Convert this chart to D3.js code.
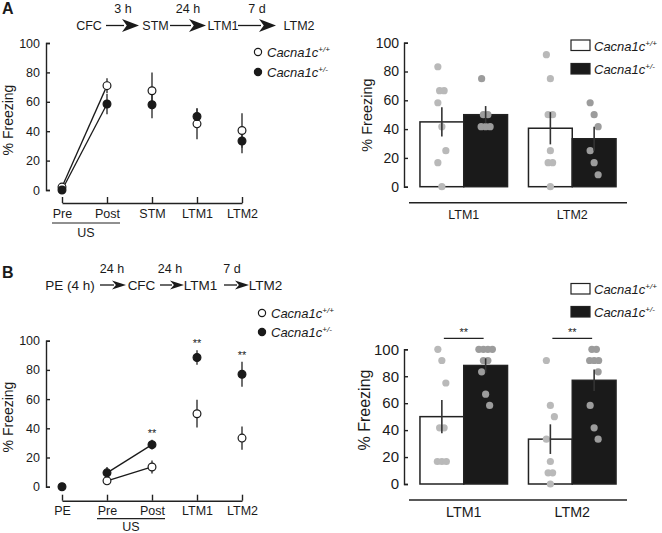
<!DOCTYPE html>
<html><head><meta charset="utf-8">
<script src="https://cdn.jsdelivr.net/npm/d3@7"></script>
<style>
body{margin:0;background:#fff}
text{font-family:Arial,"Liberation Sans",sans-serif;fill:#1a1a1a}
</style>
</head><body>
<svg id="c" width="662" height="533" style="background:#fff"></svg>
<script>
// ---------- DATA ----------
const timeA = ["Pre","Post","STM","LTM1","LTM2"];
const wtA = [2, 71, 67.5, 45, 40.5];
const wtErrA = [0.5, 5, 12.5, 10.5, 11.7];
const hetA = [0, 58.5, 58, 50, 33.3];
const hetErrA = [0.5, 7, 9.2, 5.6, 8.3];

const timeB = ["PE","Pre","Post","LTM1","LTM2"];
const wtB = [null, 4, 13.5, 50, 33.3];
const wtErrB = [null, 2, 4.5, 9.5, 8];
const hetB = [0, 9.5, 28.8, 88.5, 77];
const hetErrB = [0.5, 4, 3.3, 5, 8.5];
const starsB = ["Post","LTM1","LTM2"];

const groups = ["LTM1","LTM2"];
const barWtA = [45, 40.6];
const barWtErrA = [10.2, 11.2];
const barHetA = [50, 33.3];
const barHetErrA = [6, 8.3];
const dotsWtA = [[83.3,66.7,66.7,58.3,41.7,25,16.7,0],[91.7,75,50,50,25,16.7,16.7,0]];
const dotsHetA = [[75,50,50,41.7,41.7,41.7],[58.3,50,41.7,25,16.7,8.3]];

const barWtB = [50, 33.3];
const barWtErrB = [12.4, 11];
const barHetB = [88, 77];
const barHetErrB = [5.3, 8];
const dotsWtB = [[100,91.7,75,41.7,41.7,16.7,16.7,16.7],[91.7,58.3,50,33.3,16.7,8.3,8.3,0]];
const dotsHetB = [[100,100,100,100,91.7,91.7,83.3,66.7,58.3],[100,100,91.7,91.7,91.7,83.3,58.3,41.7,33.3]];
const barStarsB = ["LTM1","LTM2"];

const yTicks = [0,20,40,60,80,100];
const genoLabel = "Cacna1c";
const genoSup = ["+/+","+/-"];

// ---------- HELPERS ----------
const svg = d3.select("#c");
const INK = "#1a1a1a";

function styleAxis(g, fs){
  g.selectAll("path,line").attr("stroke", "#222").attr("stroke-width", 1.4);
  g.selectAll("text").attr("font-size", fs).attr("fill", INK)
   .attr("font-family", "Arial, 'Liberation Sans', sans-serif");
}

function yAxis(y, x0, fs, pad){
  const g = svg.append("g").attr("transform", `translate(${x0},0)`)
    .call(d3.axisLeft(y).tickValues(yTicks).tickSize(-4).tickSizeOuter(-4).tickPadding(pad));
  styleAxis(g, fs);
  return g;
}

function yLabel(x, y, fs){
  svg.append("text").attr("transform", `translate(${x},${y}) rotate(-90)`)
    .attr("text-anchor","middle").attr("dominant-baseline","central")
    .attr("fill", INK).attr("font-size", fs).text("% Freezing");
}

function genoText(x, y, i, fs){
  const t = svg.append("text").attr("x", x).attr("y", y).attr("font-size", fs)
    .attr("fill", INK).attr("font-style","italic");
  t.append("tspan").text(genoLabel);
  t.append("tspan").attr("dy", -5).attr("font-size", fs*0.62).text(genoSup[i]);
}

function stars(x, y){
  svg.append("text").attr("x", x).attr("y", y).attr("text-anchor","middle")
    .attr("fill", INK).attr("font-size", 11).text("**");
}

function arrow(x1, x2, y, len, hh){
  svg.append("line").attr("x1", x1).attr("x2", x2 - len + 2).attr("y1", y).attr("y2", y)
    .attr("stroke", INK).attr("stroke-width", 1.3);
  const notch = len*0.28;
  svg.append("path")
    .attr("d", `M${x2},${y} L${x2-len},${y-hh} L${x2-len+notch},${y} L${x2-len},${y+hh} Z`)
    .attr("fill", INK);
}

function lineChart(o){
  const x = d3.scalePoint().domain(o.times).range([62, 242]);
  const y = d3.scaleLinear().domain([0,100]).range([o.y0, o.y100]);
  yAxis(y, 46, 12.5, 6);
  const gx = svg.append("g").attr("transform", `translate(0,${o.axisY})`)
    .call(d3.axisBottom(x).tickSize(-6).tickSizeOuter(0).tickPadding(o.tickPad));
  styleAxis(gx, 12.5);
  // underline "US"
  const u0 = x(o.under[0]) - 10, u1 = x(o.under[1]) + 13;
  svg.append("line").attr("x1", u0).attr("x2", u1).attr("y1", o.axisY+o.underDy).attr("y2", o.axisY+o.underDy)
    .attr("stroke", "#222").attr("stroke-width", 1.2);
  svg.append("text").attr("x", (u0+u1)/2).attr("y", o.axisY+o.usDy).attr("text-anchor","middle")
    .attr("fill", INK).attr("font-size", 12.5).text("US");

  const series = [
    {v:o.wt, e:o.wtErr, fill:"#fff"},
    {v:o.het, e:o.hetErr, fill:INK}
  ];
  series.forEach(s => {
    o.times.forEach((t,i) => {
      if (s.v[i] == null) return;
      svg.append("line").attr("x1", x(t)).attr("x2", x(t))
        .attr("y1", y(s.v[i]-s.e[i])).attr("y2", y(s.v[i]+s.e[i]))
        .attr("stroke", "#333").attr("stroke-width", 1.4);
    });
  });
  series.forEach(s => {
    const pts = o.connect.map(t => [x(t), y(s.v[o.times.indexOf(t)])]);
    svg.append("path").attr("d", d3.line()(pts)).attr("fill","none")
      .attr("stroke", INK).attr("stroke-width", 1.3);
  });
  series.forEach(s => {
    o.times.forEach((t,i) => {
      if (s.v[i] == null) return;
      svg.append("circle").attr("cx", x(t)).attr("cy", y(s.v[i])).attr("r", 3.9)
        .attr("fill", s.fill).attr("stroke", INK).attr("stroke-width", 1.2);
    });
  });
  (o.stars || []).forEach(t => {
    const i = o.times.indexOf(t);
    stars(x(t), y(o.het[i] + o.hetErr[i]) - 3);
  });
  o.legendY.forEach((ly,i) => {
    svg.append("circle").attr("cx", o.legendX).attr("cy", ly).attr("r", 3.6)
      .attr("fill", i===0 ? "#fff" : INK).attr("stroke", INK).attr("stroke-width", 1.2);
    genoText(o.legendX + 9, ly + 4.5, i, 13);
  });
  yLabel(8, o.labelY, 14);
}

function jitter(vals){
  const seen = {};
  return vals.map((v,i) => {
    const n = vals.filter(w => w===v).length;
    seen[v] = (seen[v]||0);
    const k = seen[v]++;
    if (n > 1) return (k - (n-1)/2) * 4.5;
    return ((i % 3) - 1) * 4;
  });
}

function barChart(o){
  const x = d3.scaleBand().domain(groups).range([409, 627]).paddingInner(0.193).paddingOuter(0.101);
  const xs = d3.scaleBand().domain(["wt","het"]).range([0, x.bandwidth()]);
  const y = d3.scaleLinear().domain([0,100]).range([o.y0, o.y100]);
  yAxis(y, 404, o.tickFs, 5);
  const gx = svg.append("g").attr("transform", `translate(0,${o.axisY})`)
    .call(d3.axisBottom(x).tickSize(0).tickSizeOuter(0).tickPadding(7));
  styleAxis(gx, o.xFs);
  gx.select(".domain").attr("d", `M${x.range()[0]},0H${x.range()[1]}`);

  const sets = [
    {key:"wt", m:o.wt, e:o.wtErr, d:o.dWt, fill:"#fff", dot:"#b9b9b9"},
    {key:"het", m:o.het, e:o.hetErr, d:o.dHet, fill:INK, dot:"#9c9c9c"}
  ];
  sets.forEach(s => {
    groups.forEach((g,gi) => {
      svg.append("rect").attr("x", x(g)+xs(s.key)).attr("y", y(s.m[gi]))
        .attr("width", xs.bandwidth()).attr("height", y(0)-y(s.m[gi]))
        .attr("fill", s.fill).attr("stroke", "#222").attr("stroke-width", 1.5);
    });
  });
  sets.forEach(s => {
    groups.forEach((g,gi) => {
      const cx = x(g)+xs(s.key)+xs.bandwidth()/2;
      const jit = jitter(s.d[gi]);
      s.d[gi].forEach((v,j) => {
        svg.append("circle").attr("cx", cx + jit[j]).attr("cy", y(v)).attr("r", 3.6)
          .attr("fill", s.dot);
      });
      svg.append("line").attr("x1", cx).attr("x2", cx)
        .attr("y1", y(s.m[gi]-s.e[gi])).attr("y2", y(s.m[gi]+s.e[gi]))
        .attr("stroke", "#333").attr("stroke-width", 1.6);
    });
  });
  (o.stars || []).forEach(g => {
    const xa = x(g)+xs("wt")+xs.bandwidth()/2 + 2;
    const xb = x(g)+xs("het")+xs.bandwidth()/2 - 2;
    svg.append("line").attr("x1", xa).attr("x2", xb).attr("y1", o.starY).attr("y2", o.starY)
      .attr("stroke", "#222").attr("stroke-width", 1.2);
    stars((xa+xb)/2, o.starY - 2);
  });
  o.legendY.forEach((ly,i) => {
    svg.append("rect").attr("x", 571).attr("y", ly).attr("width", 19).attr("height", 10.5)
      .attr("fill", i===0 ? "#fff" : INK).attr("stroke", "#222").attr("stroke-width", 1.2);
    genoText(594, ly + 10.5, i, 13);
  });
  yLabel(o.labelX, o.labelY, o.labelFs);
}

// ---------- PANEL LETTERS & FLOWS ----------
svg.append("text").attr("x", 2).attr("y", 14).attr("fill", INK).attr("font-size", 16).attr("font-weight","bold").text("A");
svg.append("text").attr("x", 2).attr("y", 278).attr("fill", INK).attr("font-size", 16).attr("font-weight","bold").text("B");

[["CFC",89],["STM",155.5],["LTM1",223],["LTM2",299]].forEach(([t,cx]) =>
  svg.append("text").attr("x", cx).attr("y", 30).attr("text-anchor","middle").attr("fill", INK).attr("font-size", 12.5).text(t));
[["3 h",123],["24 h",188],["7 d",257]].forEach(([t,cx]) =>
  svg.append("text").attr("x", cx).attr("y", 13).attr("text-anchor","middle").attr("fill", INK).attr("font-size", 12.5).text(t));
arrow(106, 139, 25.5, 17, 6.5);
arrow(170, 206, 25.5, 17, 6.5);
arrow(238, 276, 25.5, 17, 6.5);

[["PE (4 h)",70],["CFC",141.5],["LTM1",200.5],["LTM2",265.5]].forEach(([t,cx]) =>
  svg.append("text").attr("x", cx).attr("y", 289.5).attr("text-anchor","middle").attr("fill", INK).attr("font-size", 13.5).text(t));
[["24 h",112],["24 h",170],["7 d",232]].forEach(([t,cx]) =>
  svg.append("text").attr("x", cx).attr("y", 273).attr("text-anchor","middle").attr("fill", INK).attr("font-size", 12.5).text(t));
arrow(100, 126, 285, 14, 4.5);
arrow(160, 184, 285, 14, 4.5);
arrow(224, 249, 285, 14, 4.5);

// ---------- CHARTS ----------
lineChart({times:timeA, wt:wtA, wtErr:wtErrA, het:hetA, hetErr:hetErrA,
  y0:190, y100:43, axisY:203, tickPad:6, underDy:20, usDy:34,
  connect:["Pre","Post"], under:["Pre","Post"],
  legendX:258, legendY:[52,72], labelY:120});

lineChart({times:timeB, wt:wtB, wtErr:wtErrB, het:hetB, hetErr:hetErrB,
  y0:486.7, y100:340.7, axisY:500.7, tickPad:5, underDy:18, usDy:30,
  connect:["Pre","Post"], under:["Pre","Post"],
  stars:starsB, legendX:262, legendY:[313,332], labelY:417});

barChart({wt:barWtA, wtErr:barWtErrA, het:barHetA, hetErr:barHetErrA, dWt:dotsWtA, dHet:dotsHetA,
  y0:186.7, y100:42.7, axisY:202.7, tickFs:14, xFs:12.5, legendY:[40,63.5],
  labelX:367, labelY:115, labelFs:14.5});

barChart({wt:barWtB, wtErr:barWtErrB, het:barHetB, hetErr:barHetErrB, dWt:dotsWtB, dHet:dotsHetB,
  y0:484, y100:349.3, axisY:500, tickFs:15, xFs:14.3, legendY:[283.5,306.5],
  labelX:364, labelY:410, labelFs:16, stars:barStarsB, starY:338.3});
</script>
</body></html>
